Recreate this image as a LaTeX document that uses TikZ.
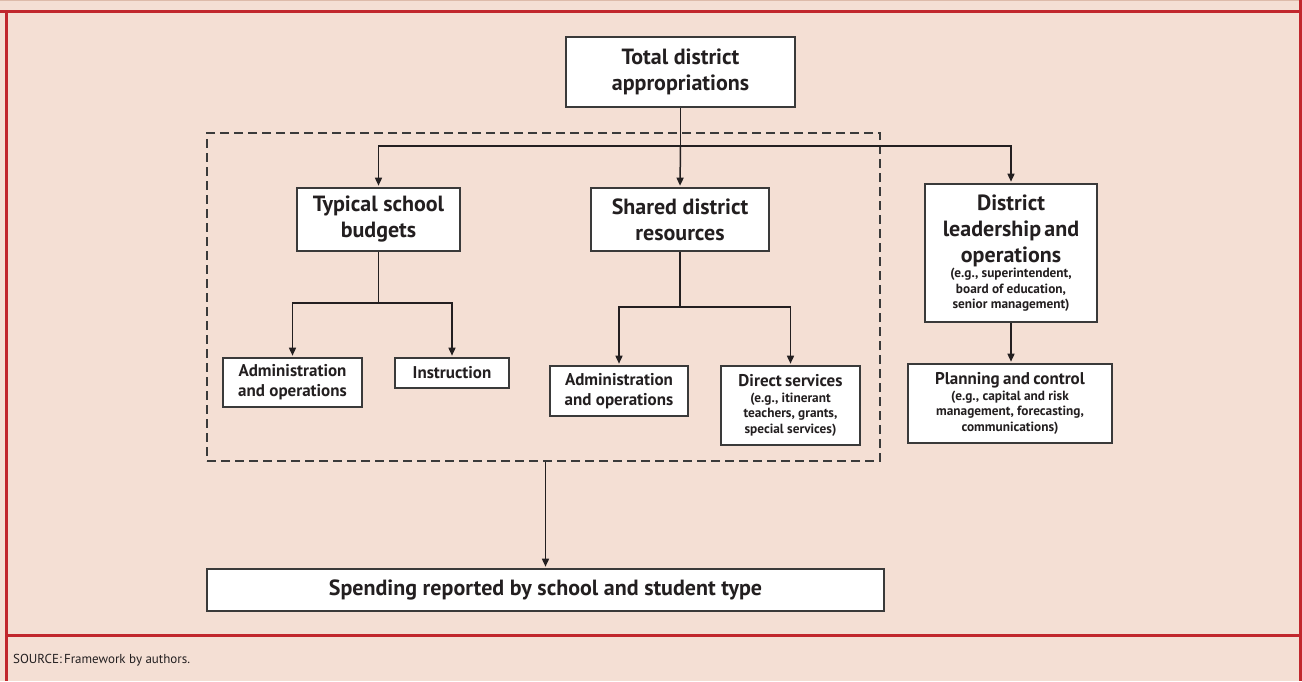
\documentclass[tikz,border=0pt]{standalone}
\usepackage{fontspec}
\setmainfont{PT Sans}
\usetikzlibrary{arrows.meta}

\definecolor{panelbg}{HTML}{F4DFD4}
\definecolor{framered}{HTML}{C1272D}
\definecolor{ink}{HTML}{231F20}
\definecolor{boxline}{HTML}{3A3A3A}
\definecolor{topline}{HTML}{DDBBAA}

\newcommand{\bigtxt}{\fontsize{22}{26}\selectfont\bfseries}
\newcommand{\midtxt}{\fontsize{17}{20}\selectfont\bfseries}
\newcommand{\smalltxt}{\fontsize{13.3}{15.5}\selectfont\bfseries}

\tikzset{
  box/.style={draw=boxline, line width=1.6pt, fill=white, inner sep=0pt,
    align=center, text=ink},
  bigbox/.style={box, font=\bigtxt},
  midbox/.style={box, font=\midtxt},
  groupbox/.style={draw=boxline, line width=1.7pt, dash pattern=on 9pt off 5pt,
    inner sep=0pt},
  link/.style={draw=ink, line width=1.5pt},
  arr/.style={link, -{Triangle[length=8pt,width=7pt]}, shorten >=1.5pt},
  rule/.style={draw=framered, line width=3pt},
}

\begin{document}
\begin{tikzpicture}[x=1pt,y=-1pt]
  % panel background and frame
  \fill[panelbg] (0,0) rectangle (1302,681);
  \useasboundingbox (0,0) rectangle (1302,681);
  \draw[topline, line width=1pt] (0,0.8) -- (1302,0.8);
  \draw[rule] (0,11) -- (1302,11);
  \draw[rule, line width=2.6pt] (6.5,11) -- (6.5,681);
  \draw[rule, line width=2.6pt] (1300.5,0) -- (1300.5,681);
  \draw[rule] (6.5,635.5) -- (1300.5,635.5);

  % dashed group of school-level spending
  \node[groupbox, minimum width=673pt, minimum height=328pt] (grp) at (543.5,297) {};

  % top level
  \node[bigbox, minimum width=229pt, minimum height=70pt] (tot) at (680.5,72)
    {Total district\\appropriations};

  % second level
  \node[bigbox, minimum width=163pt, minimum height=63pt] (typ) at (378.5,219.5)
    {Typical school\\budgets};
  \node[bigbox, minimum width=178pt, minimum height=63pt] (shr) at (680,219.5)
    {Shared district\\resources};
  \node[box, minimum width=172pt, minimum height=138pt, text width=168pt] (dist) at (1011,253)
    {{\bigtxt District\\leadership and\\operations\par}
     {\smalltxt (e.g., superintendent,\\board of education,\\senior management)\par}};

  % third level
  \node[midbox, minimum width=139pt, minimum height=49pt] (adm1) at (292.5,382.5)
    {Administration\\and operations};
  \node[midbox, minimum width=114pt, minimum height=30pt] (ins) at (452,373)
    {Instruction};
  \node[midbox, minimum width=138pt, minimum height=50pt] (adm2) at (619,391)
    {Administration\\and operations};
  \node[box, minimum width=139pt, minimum height=79pt, text width=135pt] (dir) at (790.5,405.5)
    {{\midtxt Direct services\par}
     {\smalltxt (e.g., itinerant\\teachers, grants,\\special services)\par}};
  \node[box, minimum width=204pt, minimum height=79pt, text width=200pt] (plan) at (1010,403.5)
    {{\midtxt Planning and control\par}
     {\smalltxt (e.g., capital and risk\\management, forecasting,\\communications)\par}};

  % result
  \node[bigbox, minimum width=677pt, minimum height=42pt] (spend) at (545.5,590)
    {Spending reported by school and student type};

  % source line
  \node[anchor=base west, inner sep=0pt, text=ink, font=\fontsize{13}{16}\selectfont] (src) at (13,663)
    {SOURCE:\,Framework by authors.};

  % connectors from the total
  \coordinate (split) at (680.5,146);
  \draw[link] (tot.south) -- (split);
  \draw[arr] (split) -| (typ.north);
  \draw[arr] (split) -- (shr.north);
  \draw[arr] (split) -| (dist.north);

  % school budget branches
  \coordinate (typsplit) at (378.5,303);
  \draw[link] (typ.south) -- (typsplit);
  \draw[arr] (typsplit) -| (adm1.north);
  \draw[arr] (typsplit) -| (ins.north);

  % shared resource branches
  \coordinate (shrsplit) at (680,307);
  \draw[link] (shr.south) -- (shrsplit);
  \draw[arr] (shrsplit) -| (adm2.north);
  \draw[arr] (shrsplit) -| (dir.north);

  % leadership to planning
  \draw[arr] (dist.south) -- (dist.south |- plan.north);

  % group to reported spending
  \draw[arr] (grp.south -| spend.north) -- (spend.north);
\end{tikzpicture}
\end{document}
